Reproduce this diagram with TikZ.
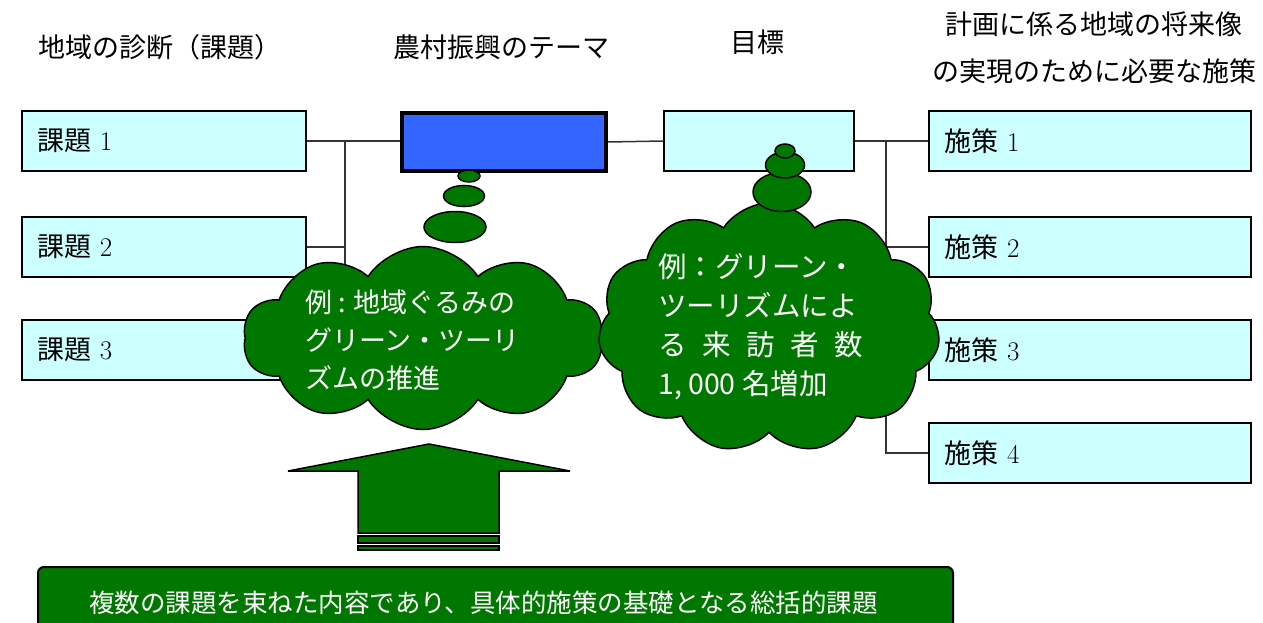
\documentclass[tikz,border=0pt]{standalone}
\usepackage{fontspec}
\newfontfamily\jp{Noto Sans CJK JP}
\usetikzlibrary{positioning,shapes.geometric,shapes.symbols}
\definecolor{boxcyan}{RGB}{204,255,255}
\definecolor{themeblue}{RGB}{51,102,255}
\definecolor{leafgreen}{RGB}{0,120,0}
\definecolor{wiregray}{RGB}{51,51,51}

\begin{document}
\begin{tikzpicture}[x=1pt,y=-1pt,
head/.style={font=\jp\fontsize{27}{47}\selectfont,align=center,inner sep=0pt},
item/.style={draw,line width=2pt,fill=boxcyan,minimum width=284pt,minimum height=60pt,text width=254pt,inner xsep=15pt,align=left,font=\fontsize{27}{30}\selectfont},
plan/.style={item,minimum width=322pt,text width=292pt},
wire/.style={draw=wiregray,line width=1.5pt},
puff/.style={cloud,cloud puffs=10,cloud puff arc=115,cloud ignores aspect,draw,line width=1.5pt,fill=leafgreen,inner sep=0pt},
bubble/.style={ellipse,draw,line width=1.5pt,fill=leafgreen,inner sep=0pt},
note/.style={text=white,align=left,inner sep=0pt,anchor=west}]
\useasboundingbox (0,0) rectangle (1263,623);

% column headings
\node[head] (h1) at (160,47) {地域の診断（課題）};
\node[head] (h2) at (501,47) {農村振興のテーマ};
\node[head] (h3) at (757,42) {目標};
\node[head] (h4) at (1094,48) {計画に係る地域の将来像\\の実現のために必要な施策};

% issues, theme, goal, measures
\node[item] (k1) at (164,141) {{\jp 課題}\ 1};
\node[item,below=44pt of k1] (k2) {{\jp 課題}\ 2};
\node[item,below=41pt of k2] (k3) {{\jp 課題}\ 3};
\node[draw,fill=themeblue,line width=4pt,minimum width=204pt,minimum height=58pt] (theme) at (504,142) {};
\node[item,line width=1.5pt,minimum width=190pt,text width=160pt] (goal) at (759,141) {};
\node[plan] (s1) at (1090,141) {{\jp 施策}\ 1};
\node[plan,below=44pt of s1] (s2) {{\jp 施策}\ 2};
\node[plan,below=41pt of s2] (s3) {{\jp 施策}\ 3};
\node[plan,below=41pt of s3] (s4) {{\jp 施策}\ 4};

% connectors
\coordinate (lbus) at (345,141);
\coordinate (rbus) at (886,142);
\draw[wire] (k1.east) -- (k1.east -| theme.west);
\draw[wire] (lbus) |- (k2.east);
\draw[wire] (lbus) |- (k3.east);
\draw[wire] (theme.east) -- (goal.west);
\draw[wire] (goal.east) -- (s1.west);
\draw[wire] (rbus) |- (s2.west);
\draw[wire] (rbus) |- (s3.west);
\draw[wire] (rbus) |- (s4.west);

% thought clouds
\node[bubble,minimum width=22pt,minimum height=12pt] (lb1) at (469,176) {};
\node[bubble,minimum width=41pt,minimum height=21pt] (lb2) at (464,196) {};
\node[bubble,minimum width=62pt,minimum height=31pt] (lb3) at (455,227) {};
\node[puff,minimum width=360pt,minimum height=183pt] (lcloud) at (423,338) {};
\node[note,font=\jp\fontsize{27}{38}\selectfont] (ltext) at ([xshift=-118pt,yshift=-2pt]lcloud.center)
  {例 : 地域ぐるみの\\グリーン・ツーリ\\ズムの推進};
\node[puff,cloud puffs=11,minimum width=342pt,minimum height=250pt] (rcloud) at (769,328) {};
\node[bubble,minimum width=58pt,minimum height=39pt] (rb3) at (782,192) {};
\node[bubble,minimum width=39pt,minimum height=26pt] (rb2) at (785,165) {};
\node[bubble,minimum width=20pt,minimum height=14pt] (rb1) at (785,151) {};
\node[note,font=\jp\fontsize{28.5}{39}\selectfont] (rtext) at ([xshift=-111pt,yshift=1pt]rcloud.center)
  {例：グリーン・\\ツーリズムによ\\る\hspace{.55em}来\hspace{.55em}訪\hspace{.55em}者\hspace{.55em}数\\1, 000 名増加};

% striped up arrow
\draw[line width=1.5pt,fill=leafgreen] (429,444) -- (570,471) -- (499,471) -- (499,533)
  -- (358,533) -- (358,471) -- (288,471) -- cycle;
\draw[line width=1.2pt,fill=leafgreen] (358,536) rectangle (499,543);
\draw[line width=1.2pt,fill=leafgreen] (358,546) rectangle (499,550);

% summary bar
\node[draw,line width=2pt,fill=leafgreen,rounded corners=6pt,minimum width=915pt,minimum height=72pt] (summary) at (495.5,603) {};
\node[text=white,font=\jp\fontsize{25.5}{30}\selectfont] (sumtext) at ([xshift=-12pt]summary.center)
  {複数の課題を束ねた内容であり、具体的施策の基礎となる総括的課題};
\end{tikzpicture}
\end{document}
